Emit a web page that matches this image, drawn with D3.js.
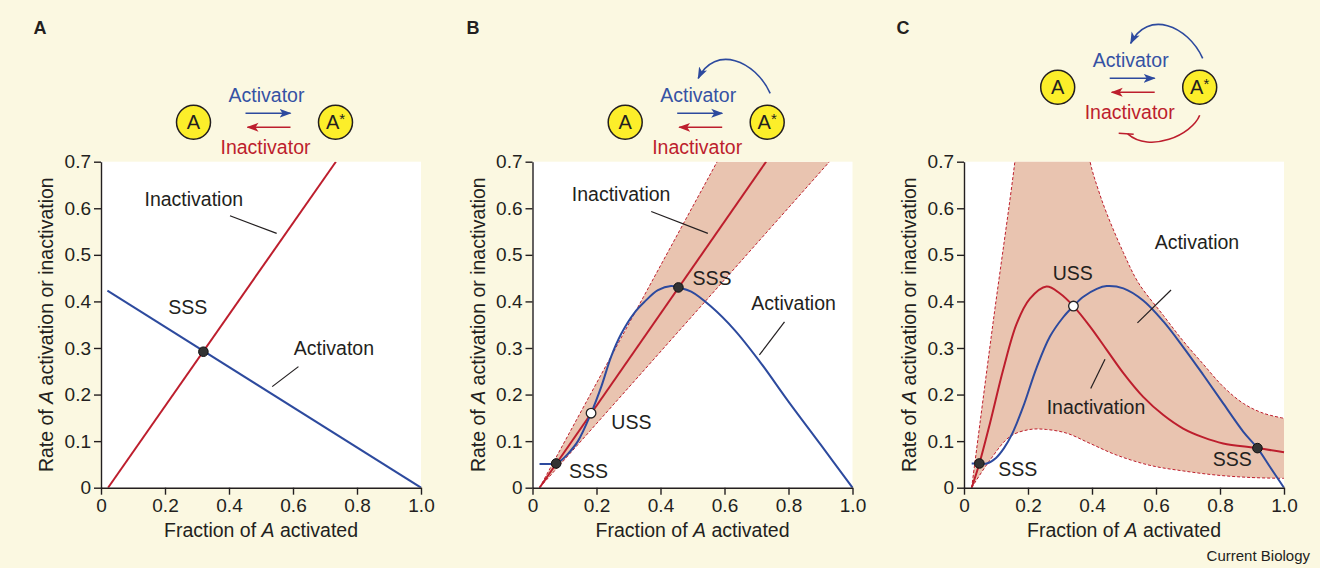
<!DOCTYPE html>
<html>
<head>
<meta charset="utf-8">
<script src="https://cdn.jsdelivr.net/npm/d3@7"></script>
<style>
  html, body { margin: 0; padding: 0; background: #fbf8e1; }
  svg { display: block; font-family: "Liberation Sans", Arial, sans-serif; }
</style>
</head>
<body>
<svg id="chart" width="1320" height="568"></svg>
<script>
// ticks
const xTicks = [0, 0.2, 0.4, 0.6, 0.8, 1.0];
const xTickLabels = ["0", "0.2", "0.4", "0.6", "0.8", "1.0"];
const yTicks = [0, 0.1, 0.2, 0.3, 0.4, 0.5, 0.6, 0.7];
const yTickLabels = ["0", "0.1", "0.2", "0.3", "0.4", "0.5", "0.6", "0.7"];

// panel A: linear rates
const aInactivation = [[0.022, 0], [0.734, 0.7]];
const aActivation = [[0.02, 0.423], [1.0, 0]];
const aStable = [[0.32, 0.292]];

// panel B: positive feedback
const bInactivation = [[0.022, 0], [0.73, 0.7]];
const bUpper = [[0.022, 0], [0.577, 0.7]];
const bLower = [[0.022, 0], [0.928, 0.7]];
const bActivation = [
  [0.022, 0.051], [0.05, 0.051], [0.074, 0.052], [0.092, 0.06], [0.11, 0.072],
  [0.142, 0.1], [0.183, 0.16], [0.215, 0.217], [0.246, 0.282], [0.277, 0.33],
  [0.319, 0.376], [0.35, 0.399], [0.392, 0.424], [0.433, 0.433], [0.456, 0.43],
  [0.496, 0.421], [0.558, 0.389], [0.631, 0.339], [0.709, 0.272], [0.8, 0.185],
  [0.9, 0.093], [1.0, 0]
];
const bStable = [[0.074, 0.052], [0.456, 0.43]];
const bUnstable = [[0.183, 0.16]];

// panel C: positive feedback plus inhibited inactivator
const cInactivation = [
  [0.024, 0], [0.048, 0.052], [0.081, 0.138], [0.123, 0.255], [0.165, 0.353],
  [0.206, 0.406], [0.258, 0.432], [0.3, 0.417], [0.342, 0.39], [0.394, 0.346],
  [0.446, 0.296], [0.498, 0.246], [0.56, 0.195], [0.623, 0.156], [0.685, 0.127],
  [0.748, 0.108], [0.81, 0.095], [0.917, 0.085], [1.0, 0.076]
];
const cActivation = [
  [0.024, 0.052], [0.048, 0.052], [0.071, 0.052], [0.1, 0.064], [0.125, 0.085],
  [0.15, 0.115], [0.185, 0.174], [0.227, 0.258], [0.269, 0.325], [0.31, 0.366],
  [0.342, 0.39], [0.373, 0.41], [0.415, 0.427], [0.446, 0.433], [0.498, 0.428],
  [0.56, 0.402], [0.623, 0.357], [0.685, 0.302], [0.748, 0.242], [0.81, 0.181],
  [0.873, 0.12], [0.917, 0.085], [0.956, 0.045], [1.0, 0]
];
const cUpper = [
  [0.024, 0], [0.09, 0.35], [0.159, 0.7], [0.2, 0.95], [0.28, 1.05], [0.35, 0.9],
  [0.394, 0.7], [0.42, 0.639], [0.446, 0.589], [0.498, 0.505], [0.545, 0.44],
  [0.623, 0.37], [0.685, 0.315], [0.748, 0.265], [0.81, 0.217], [0.873, 0.181],
  [0.935, 0.16], [1.0, 0.149]
];
const cLower = [
  [0.024, 0], [0.081, 0.059], [0.144, 0.11], [0.206, 0.125], [0.258, 0.125],
  [0.321, 0.117], [0.394, 0.095], [0.477, 0.07], [0.581, 0.048], [0.685, 0.036],
  [0.79, 0.027], [0.894, 0.022], [1.0, 0.02]
];
const cStable = [[0.048, 0.052], [0.917, 0.085]];
const cUnstable = [[0.342, 0.39]];

const BLUE = "#2d4a9e";
const RED = "#bd1e2d";
const BAND = "#e9c4b0";
const INK = "#231f20";
const YELLOW = "#fcee2a";

const PLOT_W = 320;
const PLOT_TOP = 161.7;
const PLOT_BOTTOM = 487.7;

const svg = d3.select("#chart");
const defs = svg.append("defs");

function addMarker(id, color) {
  defs.append("marker")
    .attr("id", id)
    .attr("viewBox", "0 -5 12 10")
    .attr("refX", 11)
    .attr("refY", 0)
    .attr("markerWidth", 12)
    .attr("markerHeight", 10)
    .attr("markerUnits", "userSpaceOnUse")
    .attr("orient", "auto")
    .append("path")
    .attr("d", "M0,-4.5L12,0L0,4.5L3,0Z")
    .attr("fill", color);
}
addMarker("head-blue", BLUE);
addMarker("head-red", RED);

function drawPanel(spec) {
  const x = d3.scaleLinear().domain([0, 1]).range([spec.left, spec.left + PLOT_W]);
  const y = d3.scaleLinear().domain([0, 0.7]).range([PLOT_BOTTOM, PLOT_TOP]);
  const g = svg.append("g");

  g.append("rect")
    .attr("x", spec.left).attr("y", PLOT_TOP)
    .attr("width", PLOT_W).attr("height", PLOT_BOTTOM - PLOT_TOP)
    .attr("fill", "#fff");

  const clipId = "clip-" + spec.letter;
  defs.append("clipPath").attr("id", clipId)
    .append("rect")
    .attr("x", spec.left).attr("y", PLOT_TOP)
    .attr("width", PLOT_W + 1).attr("height", PLOT_BOTTOM - PLOT_TOP);

  const plot = g.append("g").attr("clip-path", `url(#${clipId})`);
  const line = d3.line()
    .x((d) => x(d[0]))
    .y((d) => y(d[1]))
    .curve(d3.curveCatmullRom.alpha(0.5));

  if (spec.upper) {
    const top = line(spec.upper);
    const bottom = line(spec.lower.slice().reverse());
    plot.append("path")
      .attr("d", top + "L" + bottom.slice(1) + "Z")
      .attr("fill", BAND);
    plot.selectAll("path.bound")
      .data([spec.upper, spec.lower])
      .join("path")
      .attr("class", "bound")
      .attr("d", line)
      .attr("fill", "none")
      .attr("stroke", RED)
      .attr("stroke-width", 1)
      .attr("stroke-dasharray", "3,2");
  }

  plot.append("path").attr("d", line(spec.inactivation))
    .attr("fill", "none").attr("stroke", RED).attr("stroke-width", 2);
  plot.append("path").attr("d", line(spec.activation))
    .attr("fill", "none").attr("stroke", BLUE).attr("stroke-width", 2);

  // leader lines
  g.selectAll("line.leader")
    .data(spec.leaders)
    .join("line")
    .attr("x1", (d) => x(d[0])).attr("y1", (d) => y(d[1]))
    .attr("x2", (d) => x(d[2])).attr("y2", (d) => y(d[3]))
    .attr("stroke", INK).attr("stroke-width", 1.2);

  // labels
  g.selectAll("text.note")
    .data(spec.notes)
    .join("text")
    .attr("x", (d) => x(d[1])).attr("y", (d) => y(d[2]))
    .attr("text-anchor", "middle")
    .attr("font-size", 19.5)
    .attr("fill", INK)
    .text((d) => d[0]);

  // steady states
  g.selectAll("circle.sss")
    .data(spec.stable)
    .join("circle")
    .attr("cx", (d) => x(d[0])).attr("cy", (d) => y(d[1]))
    .attr("r", 4.8)
    .attr("fill", "#333")
    .attr("stroke", "#111").attr("stroke-width", 1);
  g.selectAll("circle.uss")
    .data(spec.unstable || [])
    .join("circle")
    .attr("cx", (d) => x(d[0])).attr("cy", (d) => y(d[1]))
    .attr("r", 4.8)
    .attr("fill", "#fff")
    .attr("stroke", "#222").attr("stroke-width", 1.3);

  // axes
  const xAxis = g.append("g")
    .attr("transform", `translate(0,${PLOT_BOTTOM})`)
    .call(d3.axisBottom(x).tickValues(xTicks)
      .tickFormat((d, i) => xTickLabels[i])
      .tickSize(7).tickSizeOuter(0).tickPadding(4));
  const yAxis = g.append("g")
    .attr("transform", `translate(${spec.left},0)`)
    .call(d3.axisLeft(y).tickValues(yTicks)
      .tickFormat((d, i) => yTickLabels[i])
      .tickSize(7).tickSizeOuter(0).tickPadding(3));
  [xAxis, yAxis].forEach((a) => {
    a.attr("font-family", null).attr("font-size", 19);
    a.selectAll("path, line").attr("stroke", INK).attr("stroke-width", 1.4);
    a.selectAll("text").attr("fill", INK);
  });

  const xTitle = g.append("text")
    .attr("x", spec.left + PLOT_W / 2).attr("y", 536.7)
    .attr("text-anchor", "middle").attr("font-size", 19.5).attr("fill", INK);
  xTitle.append("tspan").text("Fraction of ");
  xTitle.append("tspan").attr("font-style", "italic").text("A");
  xTitle.append("tspan").text(" activated");

  const yTitle = g.append("text")
    .attr("transform", `translate(${spec.left - 47.7},${(PLOT_TOP + PLOT_BOTTOM) / 2}) rotate(-90)`)
    .attr("text-anchor", "middle").attr("font-size", 19.5).attr("fill", INK);
  yTitle.append("tspan").text("Rate of ");
  yTitle.append("tspan").attr("font-style", "italic").text("A");
  yTitle.append("tspan").text(" activation or inactivation");

  g.append("text")
    .attr("x", spec.letterX).attr("y", 34.3)
    .attr("text-anchor", "middle")
    .attr("font-size", 18).attr("font-weight", "bold").attr("fill", INK)
    .text(spec.letter);
}

function drawScheme(cx, cy, feedback, inhibition) {
  const g = svg.append("g");
  const ax = cx + 71;

  [[cx - 71, "A"], [ax, "A*"]].forEach(([px, label]) => {
    g.append("circle").attr("cx", px).attr("cy", cy).attr("r", 17)
      .attr("fill", YELLOW).attr("stroke", INK).attr("stroke-width", 1.5);
    const t = g.append("text").attr("x", px).attr("y", cy + 7)
      .attr("text-anchor", "middle").attr("font-size", 20).attr("fill", INK);
    t.append("tspan").text("A");
    if (label === "A*") {
      t.append("tspan").attr("font-size", 15).attr("dy", -5).text("*");
    }
  });

  g.append("line")
    .attr("x1", cx - 19).attr("y1", cy - 9).attr("x2", cx + 26).attr("y2", cy - 9)
    .attr("stroke", BLUE).attr("stroke-width", 1.6)
    .attr("marker-end", "url(#head-blue)");
  g.append("line")
    .attr("x1", cx + 26).attr("y1", cy + 5).attr("x2", cx - 17).attr("y2", cy + 5)
    .attr("stroke", RED).attr("stroke-width", 1.6)
    .attr("marker-end", "url(#head-red)");

  g.append("text").attr("x", cx + 2).attr("y", cy - 20)
    .attr("text-anchor", "middle").attr("font-size", 19.5).attr("fill", "#3552a4")
    .text("Activator");
  g.append("text").attr("x", cx + 1).attr("y", cy + 31.5)
    .attr("text-anchor", "middle").attr("font-size", 19.5).attr("fill", RED)
    .text("Inactivator");

  if (feedback) {
    const p = d3.path();
    p.moveTo(ax + 3, cy - 29);
    p.bezierCurveTo(ax - 12, cy - 62, ax - 52, cy - 78, ax - 69, cy - 44);
    g.append("path").attr("d", p.toString())
      .attr("fill", "none").attr("stroke", BLUE).attr("stroke-width", 1.6)
      .attr("marker-end", "url(#head-blue)");
  }
  if (inhibition) {
    const p = d3.path();
    p.moveTo(ax, cy + 28);
    p.bezierCurveTo(ax - 8, cy + 48, ax - 50, cy + 66, ax - 72, cy + 46.5);
    g.append("path").attr("d", p.toString())
      .attr("fill", "none").attr("stroke", RED).attr("stroke-width", 1.6);
    g.append("line")
      .attr("x1", ax - 81).attr("y1", cy + 46).attr("x2", ax - 66).attr("y2", cy + 47)
      .attr("stroke", RED).attr("stroke-width", 1.6);
  }
}

drawPanel({
  letter: "A", letterX: 40, left: 101,
  inactivation: aInactivation, activation: aActivation,
  stable: aStable,
  notes: [["Inactivation", 0.29, 0.605], ["SSS", 0.271, 0.372], ["Activaton", 0.728, 0.286]],
  leaders: [[0.403, 0.584, 0.549, 0.546], [0.617, 0.26, 0.535, 0.217]]
});
drawPanel({
  letter: "B", letterX: 473, left: 532.5,
  inactivation: bInactivation, activation: bActivation,
  upper: bUpper, lower: bLower,
  stable: bStable, unstable: bUnstable,
  notes: [["Inactivation", 0.277, 0.616], ["SSS", 0.561, 0.436], ["Activation", 0.816, 0.382],
    ["USS", 0.309, 0.125], ["SSS", 0.175, 0.02]],
  leaders: [[0.371, 0.593, 0.548, 0.546], [0.7875, 0.356, 0.709, 0.285]]
});
drawPanel({
  letter: "C", letterX: 903, left: 964,
  inactivation: cInactivation, activation: cActivation,
  upper: cUpper, lower: cLower,
  stable: cStable, unstable: cUnstable,
  notes: [["Activation", 0.728, 0.512], ["USS", 0.34, 0.446], ["Inactivation", 0.4125, 0.158],
    ["SSS", 0.168, 0.025], ["SSS", 0.838, 0.0466]],
  leaders: [[0.647, 0.4245, 0.542, 0.354], [0.4406, 0.276, 0.396, 0.213]]
});

drawScheme(264.5, 122.3, false, false);
drawScheme(696.2, 122.3, true, false);
drawScheme(1128.7, 87.3, true, true);

svg.append("text")
  .attr("x", 1310).attr("y", 561)
  .attr("text-anchor", "end").attr("font-size", 15).attr("fill", INK)
  .text("Current Biology");
</script>
</body>
</html>
